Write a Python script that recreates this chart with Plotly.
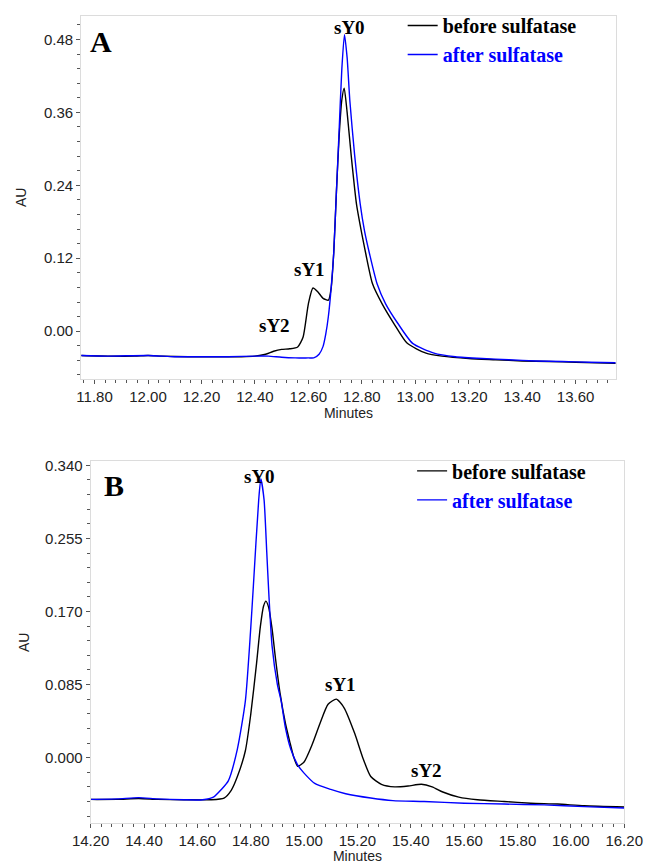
import plotly.graph_objects as go

W, H = 663, 864

# ---------------- Panel A data ----------------
tA_before = [11.75, 11.85, 11.95, 12.00, 12.05, 12.15, 12.25, 12.35, 12.40, 12.44, 12.47, 12.50, 12.53,
             12.56, 12.58, 12.60, 12.617, 12.635, 12.655, 12.675, 12.685, 12.695, 12.705, 12.715, 12.725,
             12.734, 12.745, 12.76, 12.78, 12.80, 12.815, 12.84, 12.876, 12.92, 12.97, 13.04, 13.10,
             13.20, 13.30, 13.40, 13.50, 13.60, 13.75]
yA_before = [-0.040, -0.041, -0.041, -0.040, -0.041, -0.042, -0.042, -0.042, -0.041, -0.038, -0.033, -0.030, -0.029,
             -0.026, -0.010, 0.045, 0.071, 0.065, 0.054, 0.051, 0.070, 0.130, 0.230, 0.320, 0.380,
             0.400, 0.360, 0.290, 0.209, 0.160, 0.127, 0.078, 0.045, 0.0126, -0.020, -0.036, -0.041,
             -0.045, -0.047, -0.049, -0.050, -0.051, -0.053]

tA_after = [11.75, 11.85, 12.00, 12.10, 12.20, 12.30, 12.40, 12.45, 12.50, 12.55, 12.60, 12.62, 12.64,
            12.655, 12.665, 12.675, 12.685, 12.695, 12.705, 12.715, 12.725, 12.735, 12.745, 12.755, 12.773,
            12.794, 12.81, 12.829, 12.857, 12.889, 12.935, 12.99, 13.07, 13.15, 13.25, 13.35, 13.45,
            13.55, 13.65, 13.75]
yA_after = [-0.040, -0.041, -0.040, -0.042, -0.042, -0.042, -0.041, -0.041, -0.043, -0.044, -0.044, -0.044, -0.038,
            -0.025, -0.005, 0.025, 0.070, 0.130, 0.230, 0.330, 0.430, 0.488, 0.450, 0.380, 0.290,
            0.209, 0.165, 0.127, 0.078, 0.045, 0.0126, -0.020, -0.036, -0.042, -0.045, -0.047, -0.049,
            -0.050, -0.051, -0.052]

# ---------------- Panel B data ----------------
tB_before = [14.20, 14.30, 14.38, 14.45, 14.55, 14.65, 14.70, 14.727, 14.75, 14.78, 14.80, 14.822, 14.836,
             14.848, 14.857, 14.867, 14.88, 14.893, 14.91, 14.93, 14.946, 14.96, 14.976, 15.00, 15.03,
             15.06, 15.09, 15.121, 15.15, 15.19, 15.22, 15.25, 15.29, 15.34, 15.39, 15.44, 15.48,
             15.52, 15.58, 15.65, 15.75, 15.85, 15.95, 16.05, 16.20]
yB_before = [-0.0486, -0.0485, -0.0475, -0.0485, -0.049, -0.049, -0.047, -0.038, -0.022, 0.008, 0.050, 0.110, 0.152,
             0.176, 0.182, 0.175, 0.150, 0.115, 0.075, 0.040, 0.019, 0.002, -0.010, -0.005, 0.015,
             0.040, 0.062, 0.068, 0.058, 0.028, 0.000, -0.022, -0.031, -0.034, -0.033, -0.031, -0.034,
             -0.040, -0.046, -0.049, -0.051, -0.053, -0.054, -0.056, -0.0575]

tB_after = [14.20, 14.30, 14.38, 14.45, 14.55, 14.62, 14.66, 14.69, 14.716, 14.75, 14.78, 14.80, 14.81,
            14.83, 14.838, 14.85, 14.86, 14.868, 14.88, 14.90, 14.914, 14.93, 14.95, 14.977, 15.00,
            15.04, 15.10, 15.156, 15.25, 15.333, 15.45, 15.60, 15.75, 15.90, 16.05, 16.20]
yB_after = [-0.0486, -0.048, -0.0465, -0.048, -0.049, -0.049, -0.046, -0.037, -0.027, 0.010, 0.066, 0.150, 0.200,
            0.300, 0.324, 0.300, 0.240, 0.190, 0.130, 0.085, 0.066, 0.035, 0.010, -0.009, -0.018,
            -0.030, -0.037, -0.042, -0.047, -0.050, -0.051, -0.053, -0.054, -0.055, -0.057, -0.0586]

# tick values / labels
xA_ticks = [11.8, 12.0, 12.2, 12.4, 12.6, 12.8, 13.0, 13.2, 13.4, 13.6]
yA_ticks = [0.0, 0.12, 0.24, 0.36, 0.48]
xB_ticks = [14.2, 14.4, 14.6, 14.8, 15.0, 15.2, 15.4, 15.6, 15.8, 16.0, 16.2]
yB_ticks = [0.0, 0.085, 0.17, 0.255, 0.34]

BLACK = "#000000"
BLUE = "#0000ff"
SERIF = "Liberation Serif, Times New Roman, serif"
SANS = "Liberation Sans, Arial, sans-serif"

fig = go.Figure()
fig.add_trace(go.Scatter(x=tA_before, y=yA_before, mode="lines", line=dict(color=BLACK, width=1.4, shape="spline", smoothing=0.6),
                         name="before sulfatase", xaxis="x", yaxis="y", legend="legend"))
fig.add_trace(go.Scatter(x=tA_after, y=yA_after, mode="lines", line=dict(color=BLUE, width=1.4, shape="spline", smoothing=0.6),
                         name="<span style='color:#0000ff'>after sulfatase</span>", xaxis="x", yaxis="y", legend="legend"))
fig.add_trace(go.Scatter(x=tB_before, y=yB_before, mode="lines", line=dict(color=BLACK, width=1.4, shape="spline", smoothing=0.6),
                         name="before sulfatase", xaxis="x2", yaxis="y2", legend="legend2"))
fig.add_trace(go.Scatter(x=tB_after, y=yB_after, mode="lines", line=dict(color=BLUE, width=1.4, shape="spline", smoothing=0.6),
                         name="<span style='color:#0000ff'>after sulfatase</span>", xaxis="x2", yaxis="y2", legend="legend2"))

def px_x(p):
    return p / W

def px_y(p):
    return 1 - p / H

axis_common = dict(showgrid=False, zeroline=False, showline=True, linecolor="#dcdcdc", linewidth=1,
                   mirror=True, ticks="outside", ticklen=4, tickcolor="#555555", tickwidth=1,
                   tickfont=dict(family=SANS, size=15, color="#222222"))

fig.update_layout(
    width=W, height=H,
    margin=dict(l=0, r=0, t=0, b=0),
    paper_bgcolor="white", plot_bgcolor="white",
    showlegend=True,
    xaxis=dict(domain=[px_x(66), px_x(633)], range=[11.75, 13.75], anchor="y",
               tickvals=xA_ticks, ticktext=[f"{v:.2f}" for v in xA_ticks],
               minor=dict(dtick=0.04, ticks="outside", ticklen=3, tickcolor="#555555"),
               title=dict(text="Minutes", font=dict(family=SANS, size=14, color="#222222"), standoff=2),
               **axis_common),
    yaxis=dict(domain=[px_y(376), px_y(11)], range=[-0.0784, 0.5187], anchor="x",
               tickvals=yA_ticks, ticktext=[f"{v:.2f}" for v in yA_ticks],
               minor=dict(dtick=0.024, tick0=0, ticks="outside", ticklen=3, tickcolor="#555555"),
               title=dict(text="AU", font=dict(family=SANS, size=14, color="#222222"), standoff=14),
               **axis_common),
    xaxis2=dict(domain=[px_x(76), px_x(642)], range=[14.2, 16.2], anchor="y2",
                tickvals=xB_ticks, ticktext=[f"{v:.2f}" for v in xB_ticks],
                minor=dict(dtick=0.04, tick0=14.2, ticks="outside", ticklen=3, tickcolor="#555555"),
                title=dict(text="Minutes", font=dict(family=SANS, size=14, color="#222222"), standoff=2),
                **axis_common),
    yaxis2=dict(domain=[px_y(823), px_y(459)], range=[-0.0763, 0.3446], anchor="x2",
                tickvals=yB_ticks, ticktext=[f"{v:.3f}" for v in yB_ticks],
                minor=dict(dtick=0.017, tick0=0, ticks="outside", ticklen=3, tickcolor="#555555"),
                title=dict(text="AU", font=dict(family=SANS, size=14, color="#222222"), standoff=12),
                **axis_common),
    legend=dict(x=px_x(407), y=px_y(1), xanchor="left", yanchor="top", bgcolor="rgba(0,0,0,0)",
                font=dict(family=SERIF, size=20, color=BLACK, weight="bold"), itemwidth=30,
                tracegroupgap=0),
    legend2=dict(x=px_x(417), y=px_y(449), xanchor="left", yanchor="top", bgcolor="rgba(0,0,0,0)",
                 font=dict(family=SERIF, size=20, color=BLACK, weight="bold"), itemwidth=30,
                 tracegroupgap=0),
)

labels = [
    ("A", 87, 37, 30),
    ("sY0", 351, 23, 19),
    ("sY1", 308, 266, 19),
    ("sY2", 271, 322, 19),
    ("B", 101, 483, 30),
    ("sY0", 255, 474, 19),
    ("sY1", 341.5, 683, 19),
    ("sY2", 432.5, 770, 19),
]
for txt, x, y, s in labels:
    fig.add_annotation(text=f"<b>{txt}</b>", x=px_x(x), y=px_y(y), xref="paper", yref="paper",
                       xanchor="center", yanchor="middle", showarrow=False,
                       font=dict(family=SERIF, size=s, color=BLACK))

fig.write_html("out.html")
